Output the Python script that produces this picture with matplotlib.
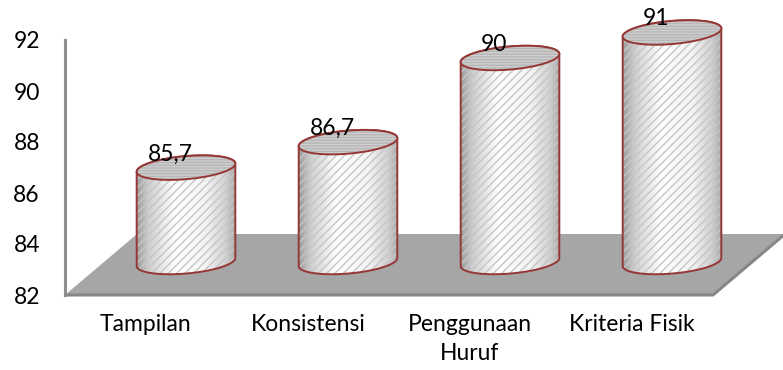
import numpy as np
import matplotlib
matplotlib.use("Agg")
import matplotlib.pyplot as plt
from matplotlib.patches import Polygon
from matplotlib.colors import LinearSegmentedColormap

categories = ["Tampilan", "Konsistensi", "Penggunaan\nHuruf", "Kriteria Fisik"]
values = [85.7, 86.7, 90, 91]
value_labels = ["85,7", "86,7", "90", "91"]
y_ticks = [82, 84, 86, 88, 90, 92]

Y_BASE = 82
PX_PER_CAT = 162.0   # pixels per category step
PX_PER_VAL = 25.5    # pixels per value unit
FONT_SIZE = 16.5


def px(dx, dy):
    """Convert a pixel offset into data units."""
    return dx / PX_PER_CAT, dy / PX_PER_VAL


def ellipse(cx, cy, t, a=49.5, b=11.5, angle=5.0):
    """Points of a slightly tilted ellipse (sizes in pixels) around a data point."""
    th = np.radians(angle)
    ex = a * np.cos(t) * np.cos(th) - b * np.sin(t) * np.sin(th)
    ey = a * np.cos(t) * np.sin(th) + b * np.sin(t) * np.cos(th)
    return cx + ex / PX_PER_CAT, cy + ey / PX_PER_VAL


def draw_cylinder(ax, x, value, cmap):
    ox, oy = px(40, 33)
    cx = x + ox
    bottom = Y_BASE + oy
    top = value + oy

    # silhouette: front arc of the base, back arc of the top
    bx, by = ellipse(cx, bottom, np.linspace(np.pi, 2 * np.pi, 80))
    tx, ty = ellipse(cx, top, np.linspace(0, np.pi, 80))
    body_xy = np.column_stack([np.r_[bx, tx], np.r_[by, ty]])

    body = Polygon(body_xy, closed=True, facecolor="none", edgecolor="none")
    ax.add_patch(body)
    half_w = 49.5 / PX_PER_CAT
    grad = np.linspace(0, 1, 256)[None, :]
    im = ax.imshow(grad, cmap=cmap, aspect="auto", interpolation="bilinear",
                   extent=[cx - half_w, cx + half_w, bottom - 1, top + 1],
                   zorder=2)
    im.set_clip_path(body)

    ax.add_patch(Polygon(body_xy, closed=True, facecolor="none",
                         edgecolor="#c6c6c6", linewidth=0, hatch="////",
                         zorder=3))
    ax.add_patch(Polygon(body_xy, closed=True, facecolor="none",
                         edgecolor="#953735", linewidth=1.4, zorder=4))

    ex, ey = ellipse(cx, top, np.linspace(0, 2 * np.pi, 160))
    top_xy = np.column_stack([ex, ey])
    ax.add_patch(Polygon(top_xy, closed=True, facecolor="#cfcfcf",
                         edgecolor="#b6b6b6", linewidth=0, hatch="------",
                         zorder=5))
    ax.add_patch(Polygon(top_xy, closed=True, facecolor="none",
                         edgecolor="#953735", linewidth=1.4, zorder=6))


def main():
    plt.rcParams["font.family"] = ["Lato", "DejaVu Sans"]
    plt.rcParams["hatch.linewidth"] = 1.0

    fig = plt.figure(figsize=(7.83, 3.70), dpi=100)
    ax = fig.add_axes([65 / 783, 75 / 370, 718 / 783, 295 / 370])

    n = len(categories)
    xs = np.arange(n)
    x_left, x_right = -0.5, n - 0.5

    # floor
    dx, dy = px(72, 61)
    floor = [(x_left, Y_BASE), (x_right, Y_BASE),
             (x_right + dx, Y_BASE + dy), (x_left + dx, Y_BASE + dy)]
    ax.add_patch(Polygon(floor, closed=True, facecolor="#a6a6a6",
                         edgecolor="none", zorder=1, clip_on=False))
    ax.plot([x_left, x_right, x_right + dx], [Y_BASE, Y_BASE, Y_BASE + dy],
            color="#878787", linewidth=2.2, solid_capstyle="butt",
            zorder=1.5, clip_on=False)

    # left wall edge
    ax.plot([x_left, x_left], [Y_BASE, max(y_ticks)], color="#8f8f8f",
            linewidth=2.2, zorder=1.5, clip_on=False)

    cmap = LinearSegmentedColormap.from_list(
        "cyl", [(0.0, "#9c9c9c"), (0.12, "#cfcfcf"), (0.38, "#ffffff"),
                (0.7, "#f4f4f4"), (0.9, "#d0d0d0"), (1.0, "#a8a8a8")])
    for x, v in zip(xs, values):
        draw_cylinder(ax, x, v, cmap)

    for x, v, lab in zip(xs, values, value_labels):
        ax.annotate(lab, (x, v), xytext=(17.5, 33.5), textcoords="offset points",
                    ha="center", va="center", fontsize=FONT_SIZE, zorder=7)

    ax.set_xlim(x_left, x_left + 718 / PX_PER_CAT)
    ax.set_ylim(Y_BASE, Y_BASE + 295 / PX_PER_VAL)
    ax.set_yticks(y_ticks)
    ax.set_yticklabels([str(t) for t in y_ticks], fontsize=FONT_SIZE)
    ax.set_xticks(xs)
    ax.set_xticklabels(categories, fontsize=FONT_SIZE, linespacing=1.45)
    ax.tick_params(axis="y", length=0, pad=18)
    ax.tick_params(axis="x", length=0, pad=14)
    for spine in ax.spines.values():
        spine.set_visible(False)
    ax.patch.set_alpha(0)

    fig.savefig("out.png", dpi=100)
    return 0


if __name__ == "__main__":
    main()
